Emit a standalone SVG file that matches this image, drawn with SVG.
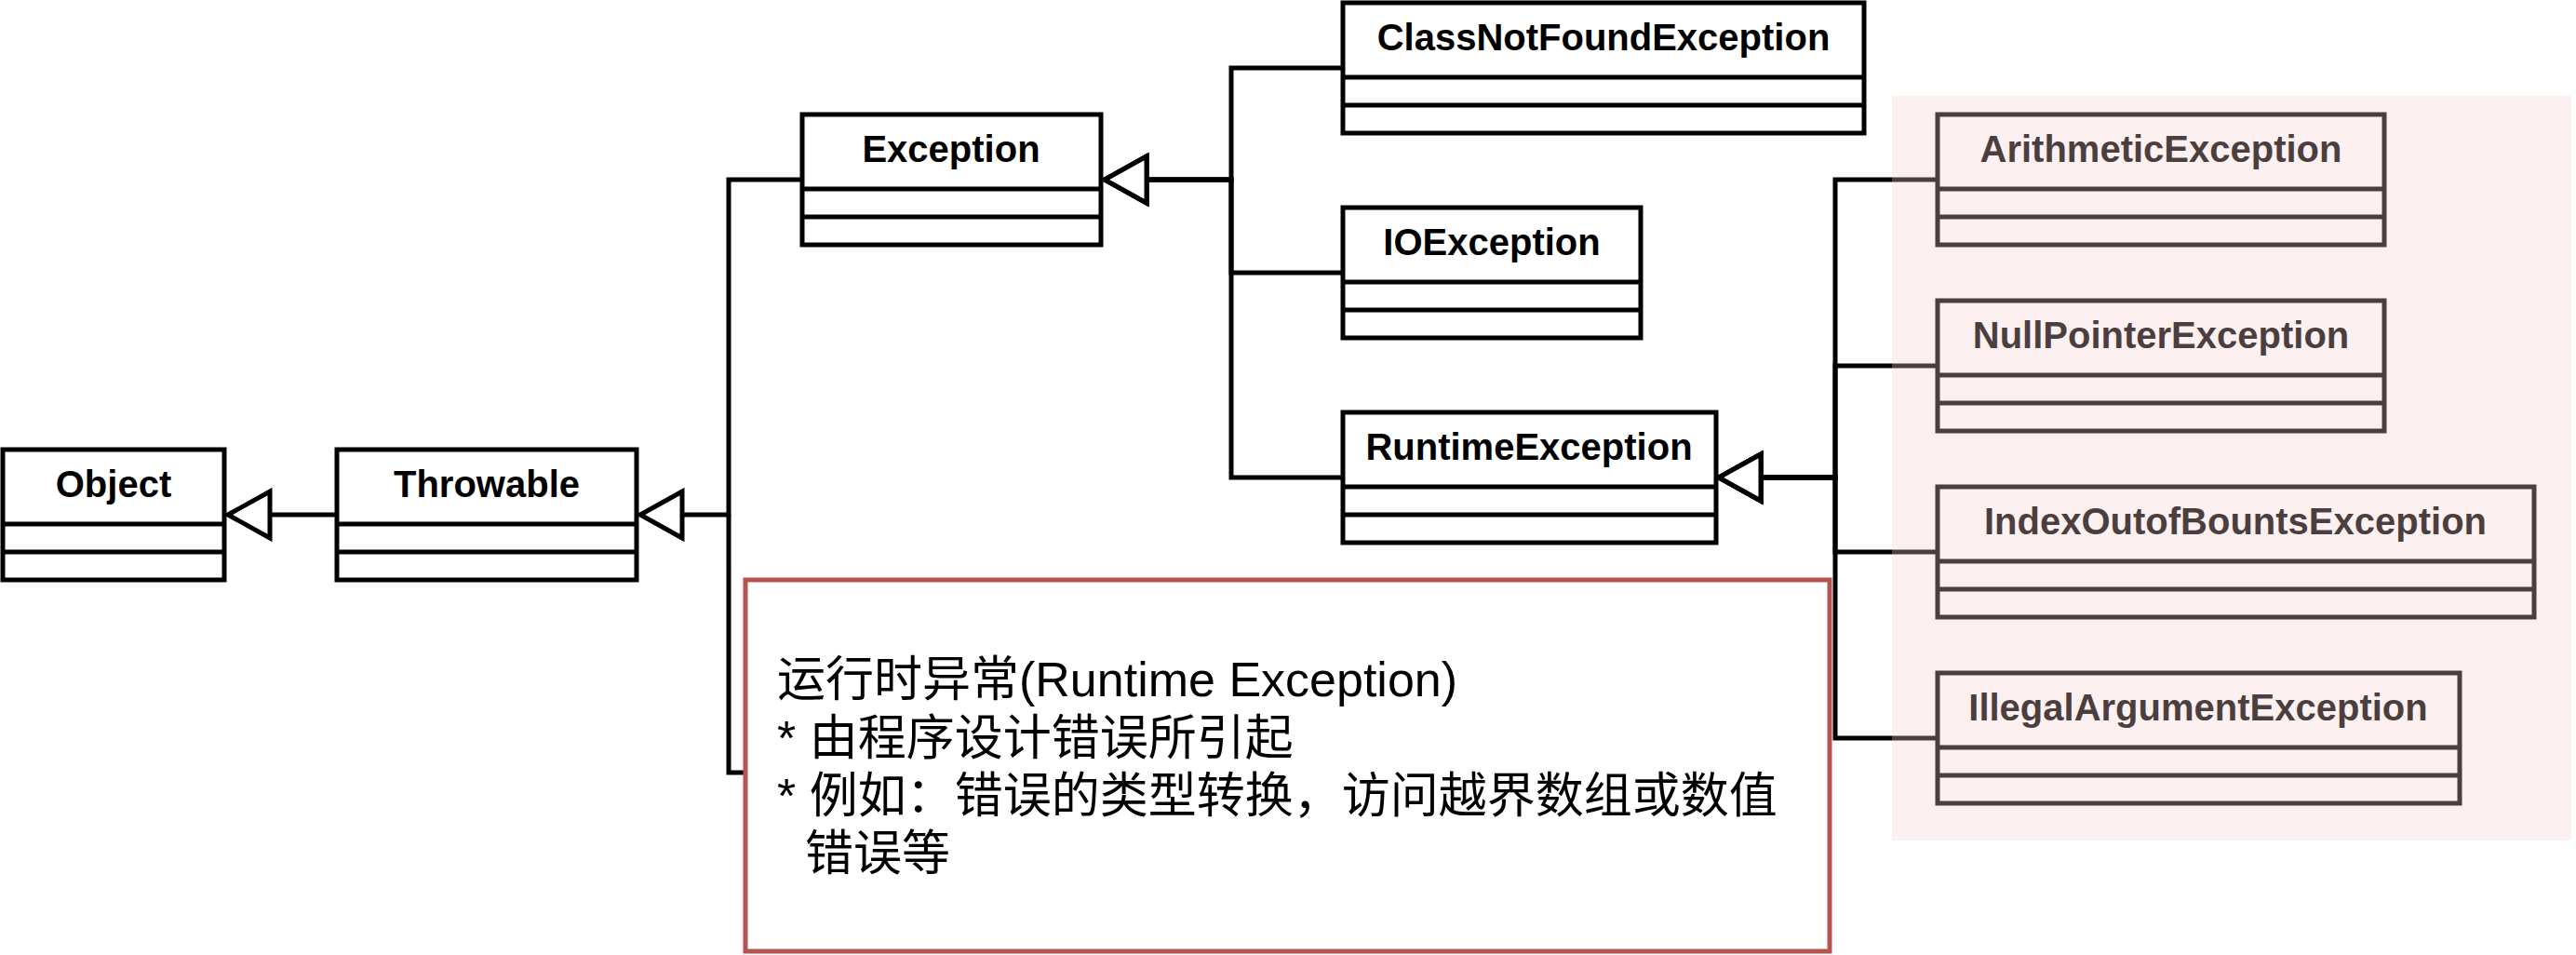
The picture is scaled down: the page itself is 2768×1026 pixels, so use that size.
<svg xmlns="http://www.w3.org/2000/svg" width="2768" height="1026" viewBox="0 0 2768 1026">
  <style>
    .box { fill: #ffffff; stroke: #000000; stroke-width: 5; }
    .div { stroke: #000000; stroke-width: 5; }
    .lbl { font-family: "Liberation Sans", Arial, sans-serif; font-weight: bold; font-size: 40px; fill: #000000; text-anchor: middle; }
    .edge { fill: none; stroke: #000000; stroke-width: 5; stroke-linejoin: miter; }
    .note { fill: #ffffff; stroke: #b85450; stroke-width: 5; }
    .ntxt { font-family: "Liberation Sans", Arial, "Noto Sans CJK SC", sans-serif; font-size: 52px; fill: #000000; }
  </style>
  <defs>
    <marker id="inherit" markerUnits="userSpaceOnUse" markerWidth="60" markerHeight="60" refX="48" refY="28" orient="auto" overflow="visible">
      <path d="M3,3 L48,28 L3,53 Z" fill="#ffffff" stroke="#000000" stroke-width="5"/>
    </marker>
  </defs>

  <rect width="2768" height="1026" fill="#ffffff"/>

  <g id="connectors">
    <path class="edge" d="M362,553 H245" marker-end="url(#inherit)"/>
    <path class="edge" d="M801,830 H783 V553"/>
    <path class="edge" d="M862,193 H783 V553 H688" marker-end="url(#inherit)"/>
    <path class="edge" d="M1443,73 H1323 V193 H1187" marker-end="url(#inherit)"/>
    <path class="edge" d="M1443,293 H1323 V193 H1187" marker-end="url(#inherit)"/>
    <path class="edge" d="M1443,513 H1323 V193 H1187" marker-end="url(#inherit)"/>
    <path class="edge" d="M2082,193 H1972 V513 H1847" marker-end="url(#inherit)"/>
    <path class="edge" d="M2082,393 H1972 V513 H1847" marker-end="url(#inherit)"/>
    <path class="edge" d="M2082,593 H1972 V513 H1847" marker-end="url(#inherit)"/>
    <path class="edge" d="M2082,793 H1972 V513 H1847" marker-end="url(#inherit)"/>
  </g>

  <g id="Object">
    <rect class="box" x="3" y="483" width="238" height="140"/>
    <line class="div" x1="3" y1="563" x2="241" y2="563"/>
    <line class="div" x1="3" y1="593" x2="241" y2="593"/>
    <text class="lbl" x="122" y="534">Object</text>
  </g>
  <g id="Throwable">
    <rect class="box" x="362" y="483" width="322" height="140"/>
    <line class="div" x1="362" y1="563" x2="684" y2="563"/>
    <line class="div" x1="362" y1="593" x2="684" y2="593"/>
    <text class="lbl" x="523" y="534">Throwable</text>
  </g>
  <g id="Exception">
    <rect class="box" x="862" y="123" width="321" height="140"/>
    <line class="div" x1="862" y1="203" x2="1183" y2="203"/>
    <line class="div" x1="862" y1="233" x2="1183" y2="233"/>
    <text class="lbl" x="1022" y="174">Exception</text>
  </g>
  <g id="ClassNotFoundException">
    <rect class="box" x="1443" y="3" width="560" height="140"/>
    <line class="div" x1="1443" y1="83" x2="2003" y2="83"/>
    <line class="div" x1="1443" y1="113" x2="2003" y2="113"/>
    <text class="lbl" x="1723" y="54">ClassNotFoundException</text>
  </g>
  <g id="IOException">
    <rect class="box" x="1443" y="223" width="320" height="140"/>
    <line class="div" x1="1443" y1="303" x2="1763" y2="303"/>
    <line class="div" x1="1443" y1="333" x2="1763" y2="333"/>
    <text class="lbl" x="1603" y="274">IOException</text>
  </g>
  <g id="RuntimeException">
    <rect class="box" x="1443" y="443" width="401" height="140"/>
    <line class="div" x1="1443" y1="523" x2="1844" y2="523"/>
    <line class="div" x1="1443" y1="553" x2="1844" y2="553"/>
    <text class="lbl" x="1643" y="494">RuntimeException</text>
  </g>
  <g id="ArithmeticException">
    <rect class="box" x="2082" y="123" width="480" height="140"/>
    <line class="div" x1="2082" y1="203" x2="2562" y2="203"/>
    <line class="div" x1="2082" y1="233" x2="2562" y2="233"/>
    <text class="lbl" x="2322" y="174">ArithmeticException</text>
  </g>
  <g id="NullPointerException">
    <rect class="box" x="2082" y="323" width="480" height="140"/>
    <line class="div" x1="2082" y1="403" x2="2562" y2="403"/>
    <line class="div" x1="2082" y1="433" x2="2562" y2="433"/>
    <text class="lbl" x="2322" y="374">NullPointerException</text>
  </g>
  <g id="IndexOutofBountsException">
    <rect class="box" x="2082" y="523" width="641" height="140"/>
    <line class="div" x1="2082" y1="603" x2="2723" y2="603"/>
    <line class="div" x1="2082" y1="633" x2="2723" y2="633"/>
    <text class="lbl" x="2402" y="574">IndexOutofBountsException</text>
  </g>
  <g id="IllegalArgumentException">
    <rect class="box" x="2082" y="723" width="561" height="140"/>
    <line class="div" x1="2082" y1="803" x2="2643" y2="803"/>
    <line class="div" x1="2082" y1="833" x2="2643" y2="833"/>
    <text class="lbl" x="2362" y="774">IllegalArgumentException</text>
  </g>

  <g id="note">
    <rect class="note" x="801" y="623" width="1165" height="399"/>
    <text class="ntxt" x="835" y="748">运行时异常(Runtime Exception)</text>
    <text class="ntxt" x="835" y="811">* 由程序设计错误所引起</text>
    <text class="ntxt" x="835" y="873">* 例如：错误的类型转换，访问越界数组或数值</text>
    <text class="ntxt" x="865" y="935">错误等</text>
  </g>

  <g id="runtime-highlight">
    <rect x="2033" y="103" width="730" height="800" fill="#f8cecc" opacity="0.3"/>
  </g>
</svg>
